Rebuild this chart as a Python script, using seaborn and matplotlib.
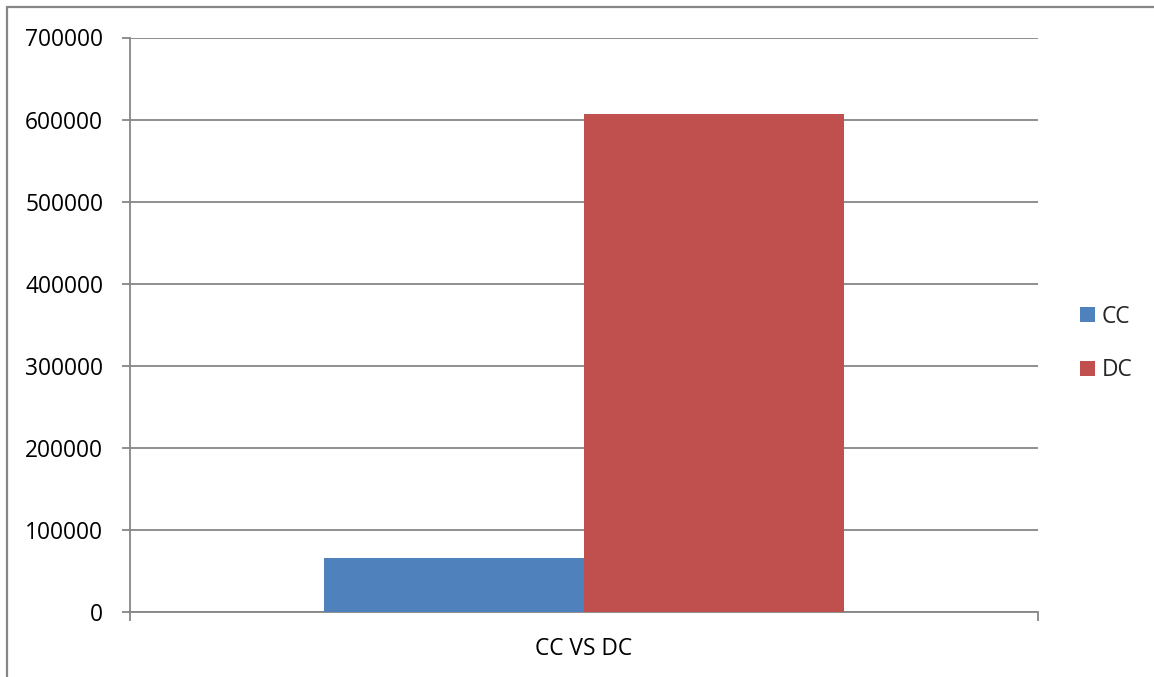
import matplotlib
matplotlib.use("Agg")
import matplotlib.pyplot as plt
import seaborn as sns
import pandas as pd
from matplotlib.patches import Rectangle
from matplotlib.ticker import MultipleLocator

# Data
category = ["CC VS DC"]
series = ["CC", "DC"]
values = [66000, 606500]
colors = ["#4F81BD", "#C0504D"]

sns.set_theme(style="white")
plt.rcParams["font.family"] = ["Open Sans", "DejaVu Sans"]

df = pd.DataFrame({
    "cat": [category[0]] * len(series),
    "series": series,
    "value": values,
})

W, H = 1154, 677
fig = plt.figure(figsize=(W / 100, H / 100), dpi=100)
fig.patch.set_facecolor("white")
ax = fig.add_axes([130 / W, 1 - 612.3 / H, (1038 - 130) / W, (612.3 - 37.5) / H])

grid_c = "#868686"
sns.barplot(data=df, x="cat", y="value", hue="series", palette=colors,
            width=0.573, saturation=1, linewidth=0, gap=0, ax=ax, legend=True,
            zorder=3)

ax.set_ylim(0, 700000)
ax.set_xlim(-0.5, 0.5)
ax.yaxis.set_major_locator(MultipleLocator(100000))
ax.yaxis.grid(True, color=grid_c, linewidth=1.3, zorder=0)
ax.set_axisbelow(True)
ax.set_xlabel("")
ax.set_ylabel("")

for s in ["top", "right"]:
    ax.spines[s].set_visible(False)
for s in ["left", "bottom"]:
    ax.spines[s].set_color(grid_c)
    ax.spines[s].set_linewidth(1.3)

fs = 16.4
ax.tick_params(axis="y", which="major", length=5.8, width=1.3, color=grid_c,
               pad=13.5, labelsize=fs, labelcolor="black", left=True)
ax.set_yticklabels([f"{int(v)}" for v in ax.get_yticks()])
ax.tick_params(axis="x", which="major", length=0, pad=18, labelsize=fs,
               labelcolor="black")
ax.set_xticks([-0.5, 0.5], minor=True)
ax.tick_params(axis="x", which="minor", length=6.2, width=1.3, color=grid_c,
               bottom=True)

handles, labels = ax.get_legend_handles_labels()
ax.legend(handles, labels, loc="center left",
          bbox_to_anchor=(1080 / W, 1 - 343.5 / H), bbox_transform=fig.transFigure,
          frameon=False, fontsize=fs, handlelength=0.66, handleheight=0.66,
          handletextpad=0.3, labelspacing=1.31, borderpad=0, borderaxespad=0)

# outer chart border (only left and top visible in the crop)
fig.add_artist(Rectangle((7 / W, -0.1), 1.2, 1 - 7 / H + 0.1,
                         transform=fig.transFigure, fill=False,
                         edgecolor="#878787", linewidth=1.6, clip_on=False))

fig.savefig("out.png", dpi=100, facecolor="white")
